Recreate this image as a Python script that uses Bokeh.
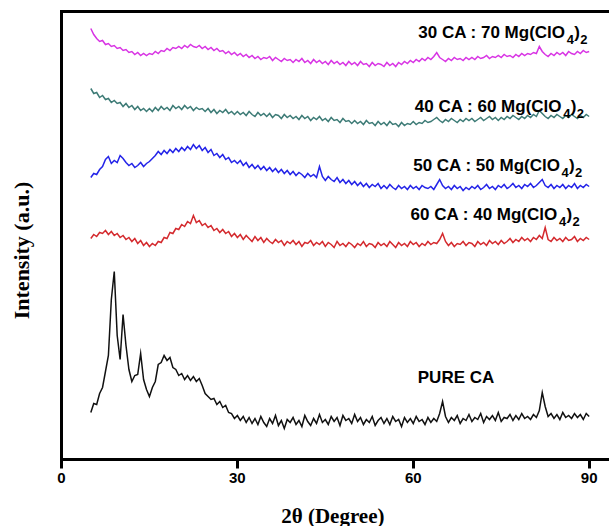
import numpy as np
from bokeh.plotting import figure
from bokeh.models import Range1d, LinearAxis, FixedTicker, Label
from bokeh.embed import file_html
from bokeh.resources import INLINE

# XRD scans: 2-theta from 5 deg in 0.5 deg steps; intensities in arbitrary units,
# each pattern already carrying its vertical stacking offset.
theta_start = 5.0
theta_step = 0.5

pure_ca = [
    47, 56, 55, 66, 72, 88, 104, 160, 188, 124,
    100, 145, 114, 90, 78, 84, 85, 106, 80, 70,
    63, 72, 78, 95, 97, 104, 99, 102, 92, 90,
    84, 86, 80, 84, 79, 83, 78, 81, 74, 66,
    63, 60, 61, 55, 58, 52, 54, 47, 46, 41,
    44, 39, 43, 37, 42, 36, 41, 35, 43, 37,
    33, 41, 36, 44, 34, 39, 31, 40, 37, 42,
    35, 39, 33, 44, 38, 34, 41, 36, 45, 37,
    40, 35, 43, 38, 42, 34, 44, 39, 41, 36,
    45, 38, 42, 35, 40, 37, 43, 34, 39, 42,
    36, 41, 35, 43, 38, 40, 33, 42, 37, 41,
    36, 43, 38, 40, 35, 42, 37, 41, 38, 46,
    58, 43, 37, 42, 39, 44, 36, 41, 39, 45,
    38, 42, 40, 46, 37, 43, 40, 44, 39, 47,
    38, 42, 41, 45, 39, 44, 40, 46, 41, 43,
    40, 45, 42, 49, 67, 53, 43, 46, 41, 45,
    40, 47, 42, 44, 41, 46, 42, 45, 40, 46,
    43,
]

ca60_mg40 = [
    221, 225, 223, 227, 226, 229, 225, 228, 224, 226,
    222, 224, 220, 222, 218, 221, 216, 219, 214, 217,
    213, 216, 214, 218, 217, 222, 221, 227, 226, 231,
    230, 235, 233, 238, 236, 244, 237, 239, 234, 236,
    232, 234, 229, 231, 227, 230, 226, 228, 223, 226,
    222, 225, 220, 224, 221, 218, 223, 219, 222, 217,
    221, 218, 216, 220, 217, 219, 214, 218, 216, 219,
    215, 218, 213, 217, 216, 219, 214, 217, 215, 218,
    213, 217, 215, 212, 218, 214, 216, 213, 217, 215,
    212, 216, 214, 218, 213, 216, 215, 212, 217, 214,
    216, 213, 218, 215, 212, 217, 214, 216, 213, 218,
    215, 217, 213, 216, 214, 218, 215, 217, 216, 220,
    226, 218, 214, 217, 213, 216, 215, 218, 214, 217,
    216, 213, 218, 215, 217, 214, 219, 216, 218, 215,
    219, 216, 218, 221, 217, 220, 218, 222, 219, 221,
    218, 222, 220, 224, 221, 232, 220, 218, 222, 219,
    221, 218, 222, 219, 220, 223, 218, 221, 219, 222,
    220,
]

ca50_mg50 = [
    282, 286, 285, 290, 293, 300, 303, 296, 299, 297,
    304, 301, 297, 294, 296, 292, 294, 297, 293, 296,
    298, 301, 304, 308, 305, 309, 306, 310, 307, 311,
    308, 312, 309, 313, 310, 315, 311, 314, 309, 312,
    307, 310, 304, 306, 302, 305, 300, 302, 297, 299,
    296, 299, 294, 297, 292, 295, 291, 294, 290, 293,
    289, 292, 288, 291, 287, 290, 286, 289, 285, 288,
    284, 287, 285, 282, 286, 283, 285, 282, 293, 283,
    279, 283, 280, 278, 282, 277, 280, 276, 279, 275,
    278, 274, 277, 273, 276, 272, 275, 273, 276, 271,
    274, 271, 275, 272, 270, 274, 271, 273, 270, 274,
    271, 273, 270, 274, 272, 271, 273, 270, 275, 280,
    274, 271, 273, 270, 274, 271, 273, 269, 272, 270,
    273, 271, 274, 270, 272, 275, 271, 273, 270, 274,
    272, 275, 271, 273, 276, 272, 274, 271, 275, 273,
    276, 272, 274, 277, 280, 274, 272, 275, 271, 274,
    272, 275, 271, 274, 272, 276, 271, 274, 272, 275,
    273,
]

ca40_mg60 = [
    371, 366, 367, 362, 364, 360, 361, 357, 359, 356,
    357, 353, 356, 352, 354, 350, 353, 349, 351, 348,
    351, 348, 352, 349, 353, 350, 352, 349, 354, 351,
    353, 350, 354, 351, 353, 349, 352, 350, 351, 348,
    351, 347, 350, 346, 349, 347, 350, 346, 348, 345,
    348, 345, 347, 344, 348, 345, 343, 347, 344, 346,
    343, 346, 342, 345, 344, 341, 345, 342, 344, 341,
    343, 340, 344, 341, 343, 339, 342, 340, 343, 339,
    341, 338, 342, 339, 340, 337, 341, 338, 339, 336,
    339, 336, 338, 335, 339, 336, 337, 334, 338, 335,
    337, 334, 338, 335, 336, 333, 337, 334, 336, 335,
    338, 335, 337, 336, 339, 337, 338, 340, 342, 339,
    337, 340, 338, 341, 339, 337, 340, 338, 341, 339,
    341, 338, 340, 342, 339, 341, 343, 340, 342, 339,
    342, 340, 343, 341, 344, 342, 340, 343, 341, 344,
    342, 345, 343, 349, 346, 343, 341, 344, 342, 345,
    343, 341, 344, 342, 345, 343, 341, 344, 342, 345,
    343,
]

ca30_mg70 = [
    431, 425, 421, 418, 419, 415, 416, 413, 414, 411,
    412, 409, 410, 407, 408, 405, 407, 404, 406, 404,
    406, 405, 408, 406, 409, 408, 411, 409, 412, 411,
    413, 411, 414, 412, 415, 413, 412, 414, 411, 413,
    410, 412, 409, 411, 408, 409, 406, 408, 405, 407,
    404, 406, 403, 405, 402, 404, 401, 403, 400, 402,
    401, 403, 399, 402, 400, 398, 401, 399, 400, 397,
    400, 398, 401, 397, 399, 396, 400, 397, 399, 396,
    398, 395, 399, 396, 398, 395, 397, 394, 398, 395,
    397, 394, 398, 395, 396, 393, 397, 394, 396, 395,
    393, 397, 394, 396, 393, 397, 395, 398, 396, 399,
    397, 400, 398, 401, 399, 402, 400, 403, 407, 402,
    400, 398, 401, 399, 402, 400, 401, 399, 402, 400,
    402, 400, 403, 401, 402, 404, 401, 403, 402, 404,
    402, 405, 403, 404, 402, 405, 403, 406, 404, 406,
    405, 407, 406, 413, 408, 405, 403, 406, 404, 407,
    405, 407, 404, 408, 406, 405, 408, 406, 409, 407,
    408,
]

series_values = [pure_ca, ca60_mg40, ca50_mg50, ca40_mg60, ca30_mg70]
series_colors = ["#111111", "#D42A2E", "#2424E8", "#3D7B76", "#D834E4"]
series_names = ["PURE CA", "60 CA : 40 Mg(ClO", "50 CA : 50 Mg(ClO",
                "40 CA : 60 Mg(ClO", "30 CA : 70 Mg(ClO"]
x_ticks = [0, 30, 60, 90]

# plotting box: 2θ 0..93.47, intensity 0..448; the canvas around it is covered
# by the ranges so that the axes and titles can sit at fixed data positions
X_MAX, Y_MAX = 93.47, 448
p = figure(width=609, height=526,
           x_range=Range1d(-10.404, X_MAX), y_range=Range1d(-67, 459),
           x_axis_location=None, y_axis_location=None,
           output_backend="svg", toolbar_location=None, min_border=0)
p.outline_line_color = None
p.xgrid.visible = False
p.ygrid.visible = False
p.background_fill_color = "white"
p.border_fill_color = "white"

for vals, col in zip(series_values, series_colors):
    x = theta_start + theta_step * np.arange(len(vals))
    p.line(x, vals, line_color=col, line_width=1.5, line_join="miter")


def style_axis(ax, ticks):
    ax.ticker = FixedTicker(ticks=ticks, minor_ticks=[])
    ax.axis_line_width = 3
    ax.axis_line_cap = "square"
    ax.major_tick_out = 9 if ticks else 0
    ax.major_tick_in = 0
    ax.major_tick_line_width = 3
    ax.minor_tick_out = 0
    ax.minor_tick_in = 0
    ax.major_label_standoff = 4
    ax.major_label_text_font = "Liberation Sans"
    ax.major_label_text_font_style = "bold"
    ax.major_label_text_font_size = "15px" if ticks else "0px"
    ax.major_label_text_color = "black"


bottom_axis = LinearAxis(fixed_location=0, bounds=(0, X_MAX))
style_axis(bottom_axis, x_ticks)
p.add_layout(bottom_axis, "below")

left_axis = LinearAxis(fixed_location=0, bounds=(0, Y_MAX))
style_axis(left_axis, [])
p.add_layout(left_axis, "left")

top_axis = LinearAxis(fixed_location=Y_MAX, bounds=(0, X_MAX))
style_axis(top_axis, [])
p.add_layout(top_axis, "above")

# axis titles
p.add_layout(Label(x=X_MAX * 0.5 + 0, y=-56, x_offset=0, text="2θ  (Degree)",
                   text_align="center", text_baseline="middle",
                   text_font="Liberation Serif", text_font_style="bold",
                   text_font_size="21px", text_color="black"))
p.add_layout(Label(x=-6.82, y=209, text="Intensity (a.u.)", angle=90, angle_units="deg",
                   text_align="center", text_baseline="middle",
                   text_font="Liberation Serif", text_font_style="bold",
                   text_font_size="22px", text_color="black"))

# pattern labels: main text, then subscript 4, closing bracket, subscript 2
label_x = [60.77, 59.53, 59.99, 60.26, 60.86]
label_y = [82, 245, 294, 353, 427]
main_w = 147.4
font_main = "17px"
font_sub = "13px"
for i, (name, lx, ly) in enumerate(zip(series_names, label_x, label_y)):
    common = dict(text_font="Liberation Sans", text_font_style="bold",
                  text_color="black", text_baseline="alphabetic", text_align="left")
    p.add_layout(Label(x=lx, y=ly, text=name, text_font_size=font_main, **common))
    if i == 0:
        continue
    p.add_layout(Label(x=lx, y=ly - 7, x_offset=main_w + 1, text="4",
                       text_font_size=font_sub, **common))
    p.add_layout(Label(x=lx, y=ly, x_offset=main_w + 8.5, text=")",
                       text_font_size=font_main, **common))
    p.add_layout(Label(x=lx, y=ly - 7, x_offset=main_w + 14.5, text="2",
                       text_font_size=font_sub, **common))

open("out.html", "w").write(file_html(p, INLINE))
